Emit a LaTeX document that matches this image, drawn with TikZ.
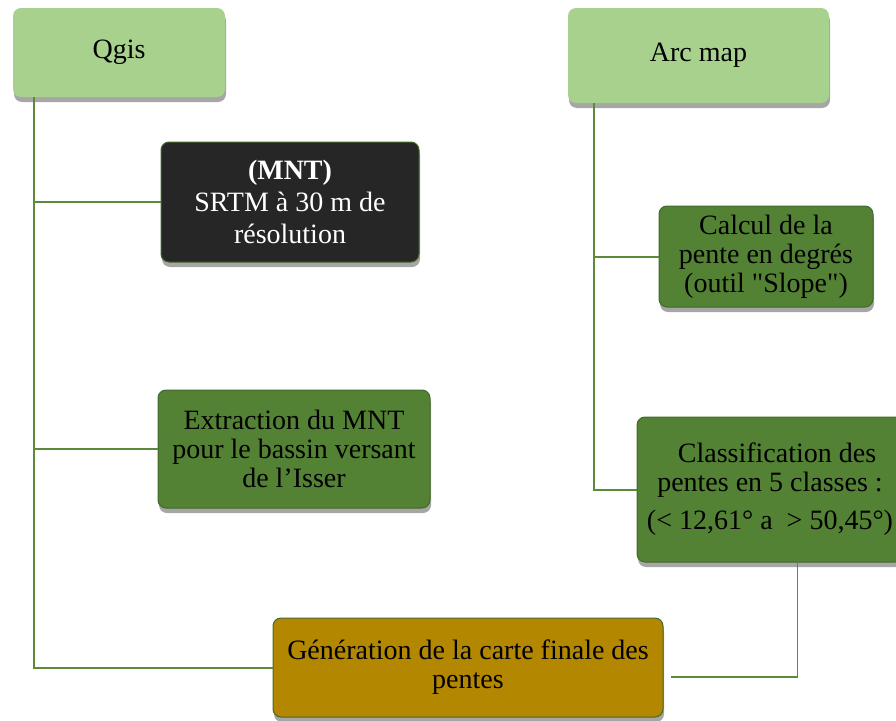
\documentclass[tikz,border=0pt]{standalone}
\usepackage{fontspec}
\setmainfont{Liberation Serif}
\usetikzlibrary{shadows,calc}

\definecolor{hellgruen}{HTML}{A9D18E}
\definecolor{dunkelgruen}{HTML}{548235}
\definecolor{linie}{HTML}{5B8A3A}
\definecolor{fastschwarz}{HTML}{262626}
\definecolor{ocker}{HTML}{B38700}

\begin{document}
\begin{tikzpicture}[x=1pt, y=-1pt,
    kasten/.style={rounded corners=8pt, align=center, inner sep=0pt,
        font=\fontsize{28}{29}\selectfont,
        drop shadow={opacity=0.7, shadow xshift=1pt, shadow yshift=-5pt}},
    kopf/.style={kasten, fill=hellgruen},
    schritt/.style={kasten, fill=dunkelgruen, draw=dunkelgruen!80!black, line width=1pt},
    dunkel/.style={schritt, fill=fastschwarz, text=white, font=\fontsize{28}{32}\selectfont},
    ende/.style={schritt, fill=ocker},
    stamm/.style={linie, line width=2pt},
    ast/.style={linie, line width=1.3pt}]
    \useasboundingbox (0,0) rectangle (896,720);
    % obere Kaesten:
    \node[kopf, minimum width=212pt, minimum height=89pt] (qgis) at (119,52.5) {Qgis};
    \node[kopf, minimum width=261pt, minimum height=95pt] (arcmap) at (698.5,55.5) {Arc map};
    % linke Seite:
    \node[dunkel, minimum width=258pt, minimum height=120pt] (mnt) at (290,202)
        {\textbf{(MNT)}\\SRTM à 30 m de\\résolution};
    \node[schritt, minimum width=272pt, minimum height=118pt] (extraction) at (294,449)
        {Extraction du MNT\\pour le bassin versant\\de l’Isser};
    % rechte Seite:
    \node[schritt, minimum width=214pt, minimum height=101pt] (calcul) at (766,256.5)
        {Calcul de la\\pente en degrés\\(outil \textquotedbl Slope\textquotedbl)};
    \node[schritt, minimum width=266pt, minimum height=145pt] (classif) at (770,489.5)
        {\hspace*{14pt}Classification des\\pentes en 5 classes :\\[9pt](< 12,61° a\ \ > 50,45°)};
    % unten:
    \node[ende, minimum width=390pt, minimum height=99pt] (generation) at (468,667.5)
        {Génération de la carte finale des\\pentes};
    % Linien:
    \coordinate (qstamm) at ($(qgis.south west)+(21,0)$);
    \coordinate (astamm) at ($(arcmap.south west)+(26,0)$);
    \coordinate (cfuss) at ($(classif.south west)+(161,0)$);
    \coordinate (gende) at ($(generation.east)+(7,9.5)$);
    \draw[stamm] (qstamm) |- (generation.west);
    \draw[stamm] (qstamm |- mnt.west) -- (mnt.west);
    \draw[stamm] (qstamm |- extraction.west) -- (extraction.west);
    \draw[stamm] (astamm) |- (classif.west);
    \draw[stamm] (astamm |- calcul.west) -- (calcul.west);
    \draw[ast] (cfuss) |- (gende);
\end{tikzpicture}
\end{document}
